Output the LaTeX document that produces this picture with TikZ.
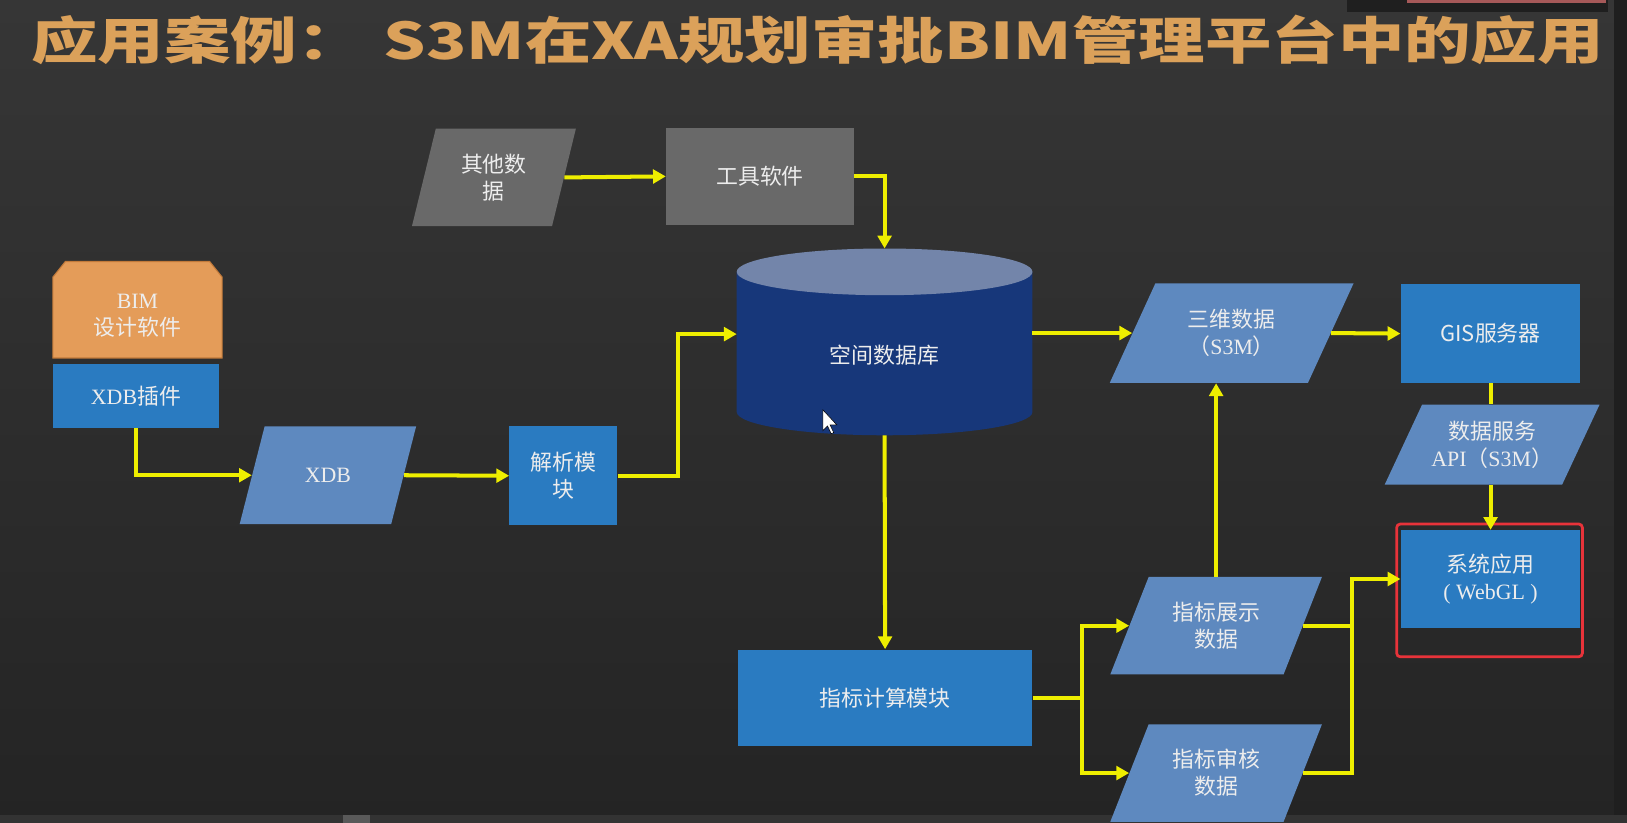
\documentclass[tikz,border=0pt]{standalone}
\usepackage{fontspec}
\usepackage{graphicx}
\setmainfont{Liberation Serif}
\newfontfamily\cjk{Noto Sans CJK SC}
\newfontfamily\titlefont{Noto Sans CJK SC}
\usepackage{tikz}
\usetikzlibrary{positioning}
\usetikzlibrary{calc,arrows.meta}

\definecolor{bgtop}{HTML}{363636}
\definecolor{bgbot}{HTML}{242424}
\definecolor{titlegold}{HTML}{DBA15A}
\definecolor{flowyellow}{HTML}{EEEE00}
\definecolor{procblue}{HTML}{2A7BC1}
\definecolor{parablue}{HTML}{5E89BF}
\definecolor{toolgray}{HTML}{696969}
\definecolor{dbside}{HTML}{17377A}
\definecolor{dbcap}{HTML}{7385AA}
\definecolor{bimorange}{HTML}{E49C59}
\definecolor{bimedge}{HTML}{C27A3A}
\definecolor{boxtext}{HTML}{EDEDED}
\definecolor{markred}{HTML}{E8333A}

\newcommand{\bodyfont}{\fontsize{12}{14.8}\selectfont\cjk}
\newcommand{\latn}[1]{{\rmfamily #1}}

\tikzset{
	flow/.style={draw=flowyellow, line width=2.2pt, -{Triangle[length=7pt,width=7.5pt]}},
	link/.style={draw=flowyellow, line width=2.2pt},
	procbox/.style={rectangle, fill=procblue, text=boxtext, font=\bodyfont, align=center, inner sep=0pt},
	toolbox/.style={procbox, fill=toolgray},
	datatext/.style={rectangle, text=boxtext, font=\bodyfont, align=center, inner sep=0pt},
	parafill/.style={fill=parablue},
	grayfill/.style={fill=toolgray},
	highlight/.style={draw=markred, line width=1.5pt, rounded corners=2pt},
}

% slanted data box: fill style, name, centre, half width, half height, half slant, text
\newcommand{\datanode}[7]{%
	\fill[#1] ($(#3)+(-#4-#6,-#5)$) -- ($(#3)+(#4-#6,-#5)$) -- ($(#3)+(#4+#6,#5)$) -- ($(#3)+(-#4+#6,#5)$) -- cycle;
	\node[datatext, minimum width=2*#4, minimum height=2*#5] (#2) at (#3) {#7};}

\begin{document}
\begin{tikzpicture}
	
	% ------------------------------------------------
	% Slide background
	\useasboundingbox (0,0) rectangle (31.36cm,-15.86cm);
	\shade[top color=bgtop, bottom color=bgbot] (0,0) rectangle (31.36cm,-15.86cm);
	\fill[black!88] (31.10cm,0) rectangle (31.36cm,-15.70cm);
	\fill[black!88] (25.96cm,0) rectangle (31.00cm,-0.24cm);
	\fill[red!30!gray] (27.12cm,0) rectangle (30.96cm,-0.06cm);
	\fill[black!80!white] (0,-15.70cm) rectangle (31.36cm,-15.86cm);
	\fill[gray!70!black] (6.62cm,-15.70cm) rectangle (7.14cm,-15.86cm);
	
	% ------------------------------------------------
	% Title
	\node[anchor=west, inner sep=0pt, text=titlegold] (title) at (0.60cm,-0.76cm)
		{\resizebox*{30.3cm}{0.96cm}{\titlefont\bfseries 应用案例：\hspace{0.3em}S3M在XA规划审批BIM管理平台中的应用}};
	
	% ------------------------------------------------
	% Relevant coordinates
	\coordinate (OtherC) at (9.52cm,-3.42cm);
	\coordinate (XdbC)   at (6.32cm,-9.16cm);
	\coordinate (S3mC)   at (23.74cm,-6.42cm);
	\coordinate (ApiC)   at (28.76cm,-8.57cm);
	\coordinate (ShowC)  at (23.44cm,-12.06cm);
	\path (ShowC) +(0,-2.84cm) coordinate (AuditC);
	
	\coordinate (DbTop) at (17.05cm,-5.24cm);
	\path (DbTop)  +(0,-2.70cm) coordinate (DbBase);
	\path (DbTop)  +(0,0.45cm)  coordinate (DbIn);
	\path (DbBase) +(0,-0.45cm) coordinate (DbOut);
	\path (DbTop)  +(-2.85cm,-1.20cm) coordinate (DbLeft);
	\path (DbTop)  +(2.85cm,-1.18cm)  coordinate (DbRight);
	
	% ----------------
	% Source side
	\datanode{grayfill}{other}{OtherC}{1.35cm}{0.94cm}{0.23cm}{其他数\\据}
	\node[toolbox, minimum width=3.62cm, minimum height=1.88cm] (tool) at (14.65cm,-3.40cm) {工具软件};
	
	\draw[fill=bimorange, draw=bimedge, line width=0.6pt] (1.02cm,-6.90cm) -- ++(0,1.56cm)
		-- ++(0.24cm,0.30cm) -- ++(2.78cm,0) -- ++(0.24cm,-0.30cm) -- ++(0,-1.56cm) -- cycle;
	\node[datatext] (bim) at (2.65cm,-6.09cm) {\latn{BIM}\\设计软件};
	\node[procbox, minimum width=3.20cm, minimum height=1.22cm] (plugin) at (2.62cm,-7.63cm) {\latn{XDB}插件};
	
	\datanode{parafill}{xdb}{XdbC}{1.46cm}{0.94cm}{0.24cm}{\latn{XDB}}
	\node[procbox, minimum width=2.08cm, minimum height=1.90cm] (parse) at (10.86cm,-9.17cm) {解析模\\块};
	
	% ----------------
	% Spatial database
	\fill[dbside] ($(DbTop)+(-2.85cm,0)$) -- ($(DbBase)+(-2.85cm,0)$)
		arc [start angle=180, end angle=360, x radius=2.85cm, y radius=0.45cm]
		-- ($(DbTop)+(2.85cm,0)$) -- cycle;
	\fill[dbcap] (DbTop) ellipse [x radius=2.85cm, y radius=0.45cm];
	\node[datatext] (db) at (17.05cm,-6.84cm) {空间数据库};
	
	% ----------------
	% Output side
	\datanode{parafill}{s3m}{S3mC}{1.91cm}{0.96cm}{0.44cm}{三维数据\\（\latn{S3M}）}
	\node[procbox, minimum width=3.46cm, minimum height=1.90cm] (gis) at (28.73cm,-6.43cm) {GIS服务器};
	\datanode{parafill}{api}{ApiC}{1.71cm}{0.77cm}{0.36cm}{数据服务\\\latn{API}（\latn{S3M}）}
	\node[procbox, minimum width=3.46cm, minimum height=1.88cm] (app) at (28.73cm,-11.16cm) {系统应用\\\latn{( WebGL )}};
	\draw[highlight] (26.92cm,-10.10cm) rectangle (30.50cm,-12.66cm);
	
	\node[procbox, minimum width=5.68cm, minimum height=1.86cm] (calc) at (17.06cm,-13.45cm) {指标计算模块};
	\datanode{parafill}{show}{ShowC}{1.67cm}{0.94cm}{0.37cm}{指标展示\\数据}
	\datanode{parafill}{audit}{AuditC}{1.67cm}{0.94cm}{0.37cm}{指标审核\\数据}
	
	\path (parse.east) +(1.16cm,0)  coordinate (ParseTurn);
	\path (calc.east)  +(0.94cm,0)  coordinate (CalcSplit);
	\path (app.west)   +(-0.94cm,0) coordinate (AppJoin);
	
	%%%%%%%%%%%%%%%%%%%%%%%%%%%%%%%%%%%%%%%%%
	% Connectors
	\draw[flow] (other.east) -- (tool.west);
	\draw[flow] (tool.east) -| (DbIn);
	\draw[flow] (plugin.south) |- (xdb.west);
	\draw[flow] (xdb.east) -- (parse.west);
	\draw[flow] (parse.east) -- (ParseTurn) |- (DbLeft);
	\draw[flow] (DbRight) -- (s3m.west);
	\draw[flow] (s3m.east) -- (gis.west);
	\draw[link] (gis.south) -- (gis.south |- api.north);
	\draw[flow] (app.north |- api.south) -- (app.north);
	\draw[flow] (DbOut) -- (calc.north);
	\draw[link] (calc.east) -- (CalcSplit);
	\draw[flow] (CalcSplit) |- (show.west);
	\draw[flow] (CalcSplit) |- (audit.west);
	\draw[flow] (show.north) -- (show.north |- s3m.south);
	\draw[link] (show.east) -- (show.east -| AppJoin);
	\draw[flow] (audit.east) -| (AppJoin) -- (app.west);
	
	% ----------------
	% Mouse pointer
	\draw[fill=white, draw=black, line width=0.3pt, shift={(15.86cm,-7.90cm)}]
		(0,0) -- (0,-0.40cm) -- (0.09cm,-0.31cm) -- (0.16cm,-0.46cm) -- (0.21cm,-0.44cm)
		-- (0.14cm,-0.29cm) -- (0.27cm,-0.29cm) -- cycle;
	
\end{tikzpicture}
\end{document}
